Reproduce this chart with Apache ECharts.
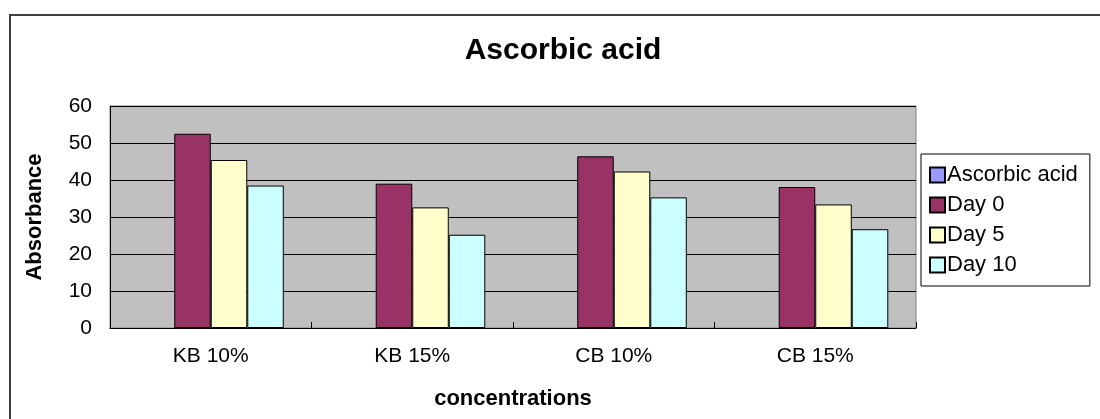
<!DOCTYPE html>
<html>
<head>
<meta charset="utf-8">
<script src="https://cdn.jsdelivr.net/npm/echarts@6/dist/echarts.min.js"></script>
<style>
html,body{margin:0;padding:0;background:#fff;}
#chart{width:1100px;height:419px;}
</style>
</head>
<body>
<div id="chart"></div>
<script>
const categories = ['KB 10%', 'KB 15%', 'CB 10%', 'CB 15%'];
const seriesNames = ['Ascorbic acid', 'Day 0', 'Day 5', 'Day 10'];
const ascorbicAcid = [null, null, null, null];
const day0 = [52.5, 39.0, 46.4, 38.1];
const day5 = [45.4, 32.6, 42.3, 33.4];
const day10 = [38.5, 25.2, 35.3, 26.7];
const yTicks = [0, 10, 20, 30, 40, 50, 60];

const colors = ['#9999FF', '#993366', '#FFFFCC', '#CCFFFF'];
const FONT = 'Liberation Sans, Arial, sans-serif';
const values = [ascorbicAcid, day0, day5, day10];

const chart = echarts.init(document.getElementById('chart'), null, {renderer: 'canvas'});
chart.setOption({
  animation: false,
  backgroundColor: '#ffffff',
  textStyle: {fontFamily: FONT, color: '#000'},
  title: {
    text: 'Ascorbic acid',
    left: 558, top: 31, textAlign: 'center',
    textStyle: {fontFamily: FONT, fontSize: 30, fontWeight: 'bold', color: '#000'}
  },
  graphic: [{
    type: 'rect',
    shape: {x: 10, y: 15, width: 1100, height: 420},
    style: {fill: 'none', stroke: '#404040', lineWidth: 2},
    silent: true
  }],
  legend: {
    orient: 'vertical',
    left: 921, top: 154,
    data: seriesNames,
    backgroundColor: '#fff',
    borderColor: '#000', borderWidth: 1,
    padding: [10, 12, 10, 8],
    itemWidth: 15, itemHeight: 15, itemGap: 8,
    icon: 'rect',
    textStyle: {fontFamily: FONT, fontSize: 22, color: '#000', lineHeight: 22, padding: [0, 0, 0, -3]}
  },
  grid: {
    left: 110, right: 184, top: 106, bottom: 91,
    show: true, backgroundColor: '#C0C0C0', borderColor: '#808080', borderWidth: 1
  },
  xAxis: {
    type: 'category',
    data: categories,
    name: 'concentrations',
    nameLocation: 'middle',
    nameGap: 60,
    nameTextStyle: {fontFamily: FONT, fontSize: 22, fontWeight: 'bold', color: '#000'},
    axisLine: {show: true, lineStyle: {color: '#000', width: 1}},
    axisTick: {show: true, inside: true, length: 6, lineStyle: {color: '#000'}},
    axisLabel: {fontFamily: FONT, fontSize: 21, color: '#000', margin: 18},
    splitLine: {show: false}
  },
  yAxis: {
    type: 'value',
    min: 0, max: 60, interval: 10,
    name: 'Absorbance',
    nameLocation: 'middle',
    nameRotate: 90,
    nameGap: 64,
    nameTextStyle: {fontFamily: FONT, fontSize: 22, fontWeight: 'bold', color: '#000'},
    axisLine: {show: true, lineStyle: {color: '#000', width: 1}},
    axisTick: {show: true, inside: true, length: 7, lineStyle: {color: '#000'}},
    axisLabel: {fontFamily: FONT, fontSize: 21, color: '#000', margin: 18,
      formatter: v => yTicks.includes(v) ? String(v) : ''},
    splitLine: {show: true, lineStyle: {color: '#000', width: 1}}
  },
  series: seriesNames.map((name, i) => ({
    name: name,
    type: 'bar',
    data: values[i],
    barGap: '0%',
    barCategoryGap: '27.5%',
    itemStyle: {color: colors[i], borderColor: '#000', borderWidth: 1}
  }))
});
</script>
</body>
</html>
